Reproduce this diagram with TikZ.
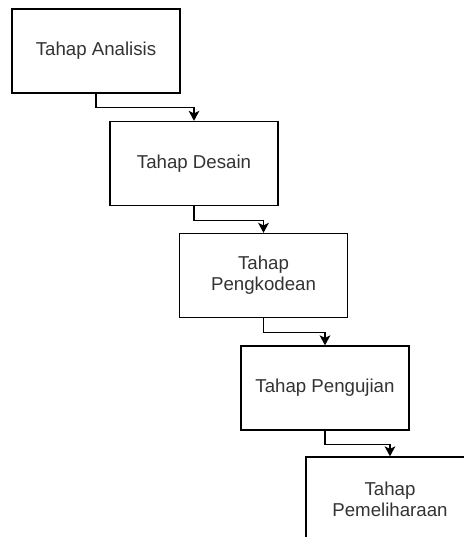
\documentclass[tikz,border=0pt]{standalone}
\usepackage{fontspec}
\setmainfont{Liberation Sans}
\usetikzlibrary{arrows.meta}
\begin{document}
\begin{tikzpicture}[x=0.75pt, y=-0.75pt,
    tahap/.style={draw, line width=1pt, fill=white, text=black!80, align=center,
        minimum width=126pt, minimum height=63pt, inner sep=0pt,
        font=\fontsize{14}{16}\selectfont},
    alur/.style={line width=1pt, -{Stealth[length=7.5pt, width=8pt, inset=2pt]}}]
                    \path[use as bounding box, clip] (0,0) rectangle (464,537);
                    \fill[white] (0,0) rectangle (464,537);

                    \node[tahap] (analisis) at (96,51) {Tahap Analisis};
                    \node[tahap] (desain) at (194,163.5) {Tahap Desain};
                    \node[tahap] (kode) at (263.5,275.5) {Tahap\\Pengkodean};
                    \node[tahap] (uji) at (325,388) {Tahap Pengujian};
                    \node[tahap] (pelihara) at (390,499) {Tahap\\Pemeliharaan};

                    \draw[alur] (analisis.south) -- ++(0,14) -| (desain.north);
                    \draw[alur] (desain.south) -- ++(0,14) -| (kode.north);
                    \draw[alur] (kode.south) -- ++(0,14) -| (uji.north);
                    \draw[alur] (uji.south) -- ++(0,14) -| (pelihara.north);
                \end{tikzpicture}
\end{document}
